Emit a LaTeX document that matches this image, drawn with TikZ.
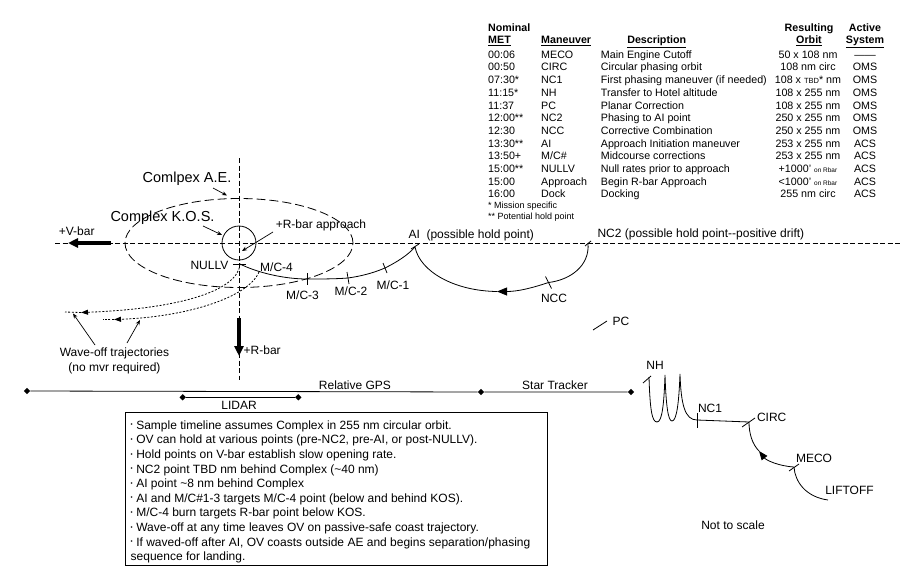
\documentclass[tikz,border=0pt]{standalone}
\usepackage{fontspec}
\setmainfont{Liberation Sans}
\usepackage{tikz}
\usetikzlibrary{shapes,arrows.meta,positioning,calc}

\newcommand{\bul}{\raisebox{2.5pt}{\fontsize{6}{6}\selectfont\textbullet}\hspace{3.5pt}}

\begin{document}
\begin{tikzpicture}[x=1pt,y=-1pt,
    lbl/.style={font=\fontsize{12}{14}\selectfont, inner sep=0pt},
    biglbl/.style={font=\fontsize{14.5}{16}\selectfont, inner sep=0pt},
    tblcol/.style={font=\fontsize{10.7}{12.7}\selectfont, inner sep=0pt, anchor=base west, align=left},
    tblhd/.style={font=\fontsize{10.7}{12.4}\selectfont\bfseries, inner sep=0pt, anchor=base},
    axisline/.style={dash pattern=on 5pt off 2.5pt, line width=0.8pt},
    aebound/.style={dash pattern=on 9pt off 4pt, line width=0.8pt},
    traj/.style={line width=0.8pt},
    waveoff/.style={dash pattern=on 2pt off 1.6pt, line width=0.8pt},
    ptr/.style={line width=0.7pt, -{Stealth[length=5pt,width=4pt]}},
    bigarrow/.style={line width=3.5pt, -{Triangle[length=10pt,width=9pt]}},
    gdot/.style={diamond, fill, inner sep=0pt, minimum size=6.5pt}]
                \useasboundingbox (0,0) rectangle (915,570);

                % Timeline table (multi-line nodes sit on their last baseline)
                \node[tblhd, anchor=base west, align=left] (methd) at (488,43.9) {Nominal\\\underline{MET}};
                \node[tblhd, anchor=base west] (manhd) at (541,43.9) {\underline{Maneuver}};
                \node[tblhd] (deschd) at (656.7,43.9) {\underline{Description}};
                \node[tblhd, align=center] (orbhd) at (809,43.9) {Resulting\\\underline{Orbit}};
                \node[tblhd, align=center] (syshd) at (865,43.9) {Active\\\underline{System}};

                \node[tblcol] (metcol) at (488,197.9) {00:06\\00:50\\07:30*\\11:15*\\11:37\\12:00**\\12:30\\13:30**\\13:50+\\15:00**\\15:00\\16:00};
                \node[tblcol] (mancol) at (541,197.9) {MECO\\CIRC\\NC1\\NH\\PC\\NC2\\NCC\\AI\\M/C\#\\NULLV\\Approach\\Dock};
                \node[tblcol] (desccol) at (600.7,197.9) {Main Engine Cutoff\\Circular phasing orbit\\First phasing maneuver (if needed)\\Transfer to Hotel altitude\\Planar Correction\\Phasing to AI point\\Corrective Combination\\Approach Initiation maneuver\\Midcourse corrections\\Null rates prior to approach\\Begin R-bar Approach\\Docking};
                \node[tblcol, anchor=base, align=center] (orbcol) at (808,197.9) {50 x 108 nm\\108 nm circ\\108 x {\fontsize{7.5}{8}\selectfont TBD}* nm\\108 x 255 nm\\108 x 255 nm\\250 x 255 nm\\250 x 255 nm\\253 x 255 nm\\253 x 255 nm\\+1000' {\fontsize{6.5}{7}\selectfont on Rbar}\\<1000' {\fontsize{6.5}{7}\selectfont on Rbar}\\255 nm circ};
                \node[tblcol, anchor=base, align=center] (syscol) at (865,197.9) {---{}---\\OMS\\OMS\\OMS\\OMS\\OMS\\OMS\\ACS\\ACS\\ACS\\ACS\\ACS};
                \node[tblcol, font=\fontsize{9}{11.7}\selectfont] (tblnote) at (488,219.9) {* Mission specific\\** Potential hold point};

                % V-bar and R-bar axes
                \coordinate (O) at (239,243);
                \coordinate (vbarL) at (55,243);
                \coordinate (vbarR) at (900,243);
                \coordinate (rbarT) at (239,158);
                \coordinate (rbarB) at (239,380);
                \draw[axisline] (vbarL) -- (vbarR);
                \draw[axisline] (rbarT) -- (rbarB);

                % Approach ellipsoid and keep-out sphere
                \node[ellipse, draw, aebound, minimum width=228pt, minimum height=89pt, inner sep=0pt] (ae) at (O) {};
                \node[circle, draw, traj, minimum size=34pt, inner sep=0pt] (kos) at (O) {};

                \coordinate (vtail) at (111,243);
                \coordinate (vtip) at (68,243);
                \coordinate (rtail) at (239,318);
                \coordinate (rtip) at (239,356);
                \draw[bigarrow] (vtail) -- (vtip);
                \draw[bigarrow] (rtail) -- (rtip);

                \node[lbl] (vlbl) at (76.7,231) {+V-bar};
                \node[lbl, anchor=west] (rlbl) at (243.5,350) {+R-bar};
                \node[biglbl] (aelbl) at (187,178.3) {Comlpex A.E.};
                \node[biglbl] (koslbl) at (162.5,217.3) {Complex K.O.S.};
                \node[lbl] (rapplbl) at (321,225.7) {+R-bar approach};

                \coordinate (aefrom) at (213,188);
                \coordinate (aeto) at (227,195.5);
                \coordinate (kosfrom) at (203,226);
                \coordinate (kosto) at (222,235);
                \coordinate (rappfrom) at (273,232);
                \coordinate (rappto) at (242,251);
                \draw[ptr] (aefrom) -- (aeto);
                \draw[ptr] (kosfrom) -- (kosto);
                \draw[ptr] (rappfrom) -- (rappto);

                % Approach trajectory points
                \coordinate (nullv) at (240,264);
                \coordinate (mc4) at (259,272);
                \coordinate (mc3) at (307,279);
                \coordinate (mc2) at (348,278);
                \coordinate (mc1) at (385,268);
                \coordinate (ai) at (415,247);
                \coordinate (ncc) at (548.5,282.5);
                \coordinate (nc2) at (588,243);
                \coordinate (drift) at (497,291.5);
                \coordinate (pc) at (600,325.5);

                \draw[traj] (ai) .. controls (408,255) and (397,262) .. (mc1) .. controls (373,273) and (362,276) .. (mc2) .. controls (335,279) and (322,279) .. (mc3) .. controls (285,279) and (258,273) .. (nullv);
                \draw[traj, -{Triangle[length=10pt,width=8pt]}] (nc2) .. controls (590,266) and (570,280) .. (ncc) .. controls (532,288) and (518,291.5) .. (drift);
                \draw[traj] (drift) .. controls (455,291) and (420,272) .. (ai);

                % burn ticks
                \draw[traj] (nullv) ++(-7,0) -- ++(13,0);
                \draw[traj] (mc3) ++(0,-6) -- ++(0,12);
                \draw[traj] (mc2) ++(-1,-6) -- ++(2,12);
                \draw[traj] (mc1) ++(-2,-5) -- ++(4,10);
                \draw[traj] (ai) ++(-4,2) -- ++(8,-5);
                \draw[traj] (ncc) ++(-3,-6) -- ++(6,12);
                \draw[traj] (nc2) ++(-3,3) -- ++(6,-5);
                \draw[traj] (pc) ++(-7,4.5) -- ++(14,-9);

                \node[lbl, anchor=east] (nullvlbl) at (228.5,265.7) {NULLV};
                \node[lbl, anchor=west] (mc4lbl) at (260,267.3) {M/C-4};
                \node[lbl] (mc3lbl) at (302.5,295) {M/C-3};
                \node[lbl] (mc2lbl) at (351,291.7) {M/C-2};
                \node[lbl] (mc1lbl) at (393,285) {M/C-1};
                \node[lbl, anchor=west] (ailbl) at (408.3,235.7) {AI\ \ (possible hold point)};
                \node[lbl, anchor=west] (nc2lbl) at (597.3,234.3) {NC2 (possible hold point-{}-positive drift)};
                \node[lbl] (ncclbl) at (554,298.3) {NCC};
                \node[lbl, anchor=west] (pclbl) at (612.3,321.7) {PC};

                % Wave-off trajectories
                \coordinate (w1tip) at (81,312.5);
                \coordinate (w1end) at (65,312);
                \coordinate (w2tip) at (114,319.5);
                \coordinate (w2end) at (103,319.5);
                \draw[waveoff, -{Triangle[length=7pt,width=5pt]}] (nullv) .. controls (238,292) and (175,309) .. (w1tip);
                \draw[waveoff] (w1tip) -- (w1end);
                \draw[waveoff, -{Triangle[length=7pt,width=5pt]}] (mc4) .. controls (248,298) and (185,317) .. (w2tip);
                \draw[waveoff] (w2tip) -- (w2end);

                \node[lbl, align=center, font=\fontsize{12}{15.7}\selectfont] (wavelbl) at (114.5,361) {Wave-off trajectories\\(no mvr required)};
                \coordinate (wfromA) at (95,345);
                \coordinate (wtoA) at (73,313.5);
                \coordinate (wfromB) at (127,343);
                \coordinate (wtoB) at (140,320);
                \draw[ptr] (wfromA) -- (wtoA);
                \draw[ptr] (wfromB) -- (wtoB);

                % Sensor ranges
                \node[gdot] (gpsL) at (27,391) {};
                \node[gdot] (gpsR) at (481,392) {};
                \node[gdot] (stR) at (631,392) {};
                \node[gdot] (lidL) at (182.7,397.3) {};
                \node[gdot] (lidR) at (298.3,397.3) {};
                \draw[traj] (gpsL) -- (gpsR) -- (stR);
                \draw[traj] (lidL) -- (lidR);
                \node[lbl] (gpslbl) at (355,385) {Relative GPS};
                \node[lbl] (stlbl) at (555,385) {Star Tracker};
                \node[lbl] (lidlbl) at (239,405.5) {LIDAR};

                % Notes box
                \node[draw, line width=1.2pt, minimum width=422pt, minimum height=153pt, inner sep=0pt, anchor=north west] (notebox) at (125,412) {};
                \node[lbl, anchor=base west, align=left, font=\fontsize{12}{14.6}\selectfont] (notetxt) at (130.5,560.7) {\bul Sample timeline assumes Complex in 255 nm circular orbit.\\\bul OV can hold at various points (pre-NC2, pre-AI, or post-NULLV).\\\bul Hold points on V-bar establish slow opening rate.\\\bul NC2 point TBD nm behind Complex (\textasciitilde 40 nm)\\\bul AI point \textasciitilde 8 nm behind Complex\\\bul AI and M/C\#1-3 targets M/C-4 point (below and behind KOS).\\\bul M/C-4 burn targets R-bar point below KOS.\\\bul Wave-off at any time leaves OV on passive-safe coast trajectory.\\\bul If waved-off after AI, OV coasts outside AE and begins separation/phasing\\sequence for landing.};

                % Launch and phasing
                \coordinate (nh) at (649,377);
                \coordinate (nc1) at (697,420);
                \coordinate (circ) at (749,422);
                \coordinate (climb) at (759,451);
                \coordinate (meco) at (794,467);
                \coordinate (liftoff) at (828,500);

                \draw[traj] (nh) .. controls (650,410) and (652,422) .. (657,422) .. controls (662,422) and (664,405) .. (665,375) .. controls (666,405) and (668,421) .. (672,421) .. controls (677,421) and (679,400) .. (680,374) .. controls (681,405) and (685,420) .. (nc1) -- (circ);
                \draw[traj, -{Triangle[length=9pt,width=7pt]}] (meco) .. controls (778,466) and (766,460) .. (climb);
                \draw[traj] (climb) .. controls (752,444) and (749,433) .. (circ);
                \draw[traj] (meco) .. controls (795,482) and (806,497) .. (liftoff);

                \draw[traj] (nh) ++(-6,6) -- ++(8,-7);
                \draw[traj] (nc1) ++(0,-7) -- ++(0,15);
                \draw[traj] (circ) ++(-7,5) -- ++(13,-9);
                \draw[traj] (meco) ++(-5,4) -- ++(10,-7);

                \node[lbl] (nhlbl) at (655,365) {NH};
                \node[lbl] (nc1lbl) at (710,408) {NC1};
                \node[lbl] (circlbl) at (771.7,417) {CIRC};
                \node[lbl] (mecolbl) at (814,458) {MECO};
                \node[lbl] (liftlbl) at (849.5,490) {LIFTOFF};
                \node[lbl] (scalelbl) at (733,525) {Not to scale};
            \end{tikzpicture}
\end{document}
